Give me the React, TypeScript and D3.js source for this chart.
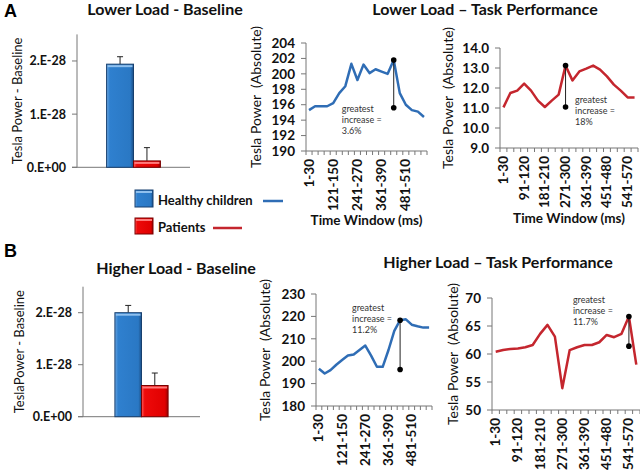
import { scaleBand, scaleLinear, line, range } from "d3"

const windows = [
  "1-30", "31-60", "61-90", "91-120", "121-150", "151-180", "181-210", "211-240",
  "241-270", "271-300", "301-330", "331-360", "361-390", "391-420", "421-450",
  "451-480", "481-510", "511-540", "541-570", "571-600",
]

// Tesla power (absolute) per 30 ms window
const lowerHealthy = [195.3, 195.8, 195.8, 195.8, 196.2, 197.5, 198.4, 201.3, 199.2, 201.2,
  200.1, 200.6, 200.3, 200.0, 201.8, 197.5, 196.0, 195.3, 195.1, 194.4]
const lowerPatients = [11.03, 11.75, 11.87, 12.22, 11.87, 11.37, 11.05, 11.37, 11.67, 13.12,
  12.38, 12.83, 12.97, 13.12, 12.92, 12.58, 12.17, 11.87, 11.53, 11.53]
const higherHealthy = [196.6, 194.5, 196.0, 198.4, 200.5, 202.5, 203.0, 205.0, 207.0, 202.5,
  197.5, 197.5, 205.0, 213.5, 218.3, 218.7, 216.3, 215.6, 215.0, 215.0]
const higherPatients = [60.4, 60.7, 60.9, 61.0, 61.2, 61.6, 63.6, 65.2, 63.1, 53.9,
  60.7, 61.2, 61.6, 61.6, 62.1, 63.4, 63.0, 63.6, 66.7, 58.1]

// greatest increase markers: [peak window index, lower value]
const lowerHealthyIncrease = [14, 195.6]
const lowerPatientsIncrease = [9, 11.05]
const higherHealthyIncrease = [14, 196.3]
const higherPatientsIncrease = [18, 61.4]

const lowerHealthyTicks = [190, 192, 194, 196, 198, 200, 202, 204]
const lowerPatientsTicks = [9, 10, 11, 12, 13, 14]
const higherHealthyTicks = [180, 190, 200, 210, 220, 230]
const higherPatientsTicks = [50, 55, 60, 65, 70]

// baseline bars, in units of 1e-28
const groups = ["Healthy children", "Patients"]
const lowerBaseline = [1.94, 0.12]
const lowerBaselineErr = [0.14, 0.25]
const higherBaseline = [2.0, 0.6]
const higherBaselineErr = [0.14, 0.24]
const barTicks = [0, 1, 2]
const barTickLabels = ["0.E+00", "1.E-28", "2.E-28"]

const BLUE = "#2f6db5"
const RED = "#c4262e"
const font = "Lato, 'Open Sans', sans-serif"

function LineChart({ values, color, left, right, top, bottom, domain, ticks, fmt, every,
  increase, note, noteDx, noteY, yLabelX, xTitle }) {
  const x = scaleBand().domain(windows).range([left, right])
  const y = scaleLinear().domain(domain).range([bottom, top])
  const cx = (i) => x(windows[i]) + x.bandwidth() / 2
  const path = line().x((d, i) => cx(i)).y(d => y(d))(values)
  const [pk, lo] = increase
  const mx = cx(pk)
  return (
    <g fontFamily={font}>
      <line x1={left} x2={left} y1={top} y2={bottom} stroke="#777" />
      <line x1={left} x2={right} y1={bottom} y2={bottom} stroke="#777" />
      {ticks.map(t => (
        <g key={t}>
          <line x1={left - 5} x2={left} y1={y(t)} y2={y(t)} stroke="#777" />
          <text x={left - 11} y={y(t)} dy="0.35em" textAnchor="end" fontSize="13.5" fontWeight="700" fill="#111">
            {fmt(t)}
          </text>
        </g>
      ))}
      {range(windows.length + 1).map(i => (
        <line key={i} x1={left + i * x.step()} x2={left + i * x.step()} y1={bottom} y2={bottom + 4} stroke="#777" />
      ))}
      {windows.map((w, i) => i % every === 0 ? (
        <text key={w} transform={`translate(${cx(i) + 4.5},${bottom + 8}) rotate(-90)`}
          textAnchor="end" fontSize="13.5" fontWeight="700" fill="#111">{w}</text>
      ) : null)}
      <path d={path} fill="none" stroke={color} strokeWidth="2.5" strokeLinejoin="round" />
      <line x1={mx} x2={mx} y1={y(values[pk])} y2={y(lo)} stroke="#222" strokeWidth="1" />
      <circle cx={mx} cy={y(values[pk])} r="2.8" fill="#000" />
      <circle cx={mx} cy={y(lo)} r="2.8" fill="#000" />
      <text x={mx + noteDx} y={y(noteY)} fontSize="9" fill="#333">
        <tspan>greatest</tspan>
        <tspan x={mx + noteDx} dy="11">increase =</tspan>
        <tspan x={mx + noteDx} dy="11">{note}</tspan>
      </text>
      <text transform={`translate(${yLabelX},${(top + bottom) / 2}) rotate(-90)`} textAnchor="middle"
        fontSize="14" fill="#111" style={{ whiteSpace: "pre" }}>{"Tesla Power  (Absolute)"}</text>
      {xTitle ? (
        <text x={(left + right) / 2} y={xTitle} textAnchor="middle" fontSize="13.5" fontWeight="700" fill="#111">
          Time Window (ms)
        </text>
      ) : null}
    </g>
  )
}

function Bar({ x, y, w, h, fill }) {
  return (
    <g>
      <rect x={x} y={y} width={w} height={h} fill={`url(#grad-${fill})`} stroke={fill === "blue" ? "#173f6e" : "#7a0000"} />
      <rect x={x + 1} y={y + 1} width={w - 2} height={Math.min(2, h - 1)} fill={fill === "blue" ? "#8fc0ee" : "#ff7a7a"} />
    </g>
  )
}

function BarChart({ values, errors, axisX, axisEnd, base, top, pad, yLabelX, yLabel }) {
  const x = scaleBand().domain(groups).range([axisX, axisEnd]).paddingInner(0).paddingOuter(pad)
  const y = scaleLinear().domain([0, 2.5]).range([base, top])
  return (
    <g fontFamily={font}>
      <line x1={axisX} x2={axisX} y1={top} y2={base} stroke="#777" />
      <line x1={axisX - 5} x2={axisEnd} y1={base} y2={base} stroke="#777" />
      {barTicks.map((t, i) => (
        <g key={t}>
          <line x1={axisX - 5} x2={axisX} y1={y(t)} y2={y(t)} stroke="#777" />
          <text x={axisX - 11} y={y(t)} dy="0.35em" textAnchor="end" fontSize="12.5" fontWeight="700" fill="#111">
            {barTickLabels[i]}
          </text>
        </g>
      ))}
      {groups.map((g, i) => {
        const bx = x(g)
        const c = bx + x.bandwidth() / 2
        const ty = y(values[i] + errors[i])
        return (
          <g key={g}>
            <line x1={c} x2={c} y1={y(values[i])} y2={ty} stroke="#222" />
            <line x1={c - 3} x2={c + 3} y1={ty} y2={ty} stroke="#222" />
            <Bar x={bx} y={y(values[i])} w={x.bandwidth()} h={base - y(values[i])} fill={i === 0 ? "blue" : "red"} />
          </g>
        )
      })}
      <text transform={`translate(${yLabelX},${(top + base) / 2}) rotate(-90)`} textAnchor="middle"
        fontSize="13" fill="#111">{yLabel}</text>
    </g>
  )
}

export default function App() {
  const t1 = (v) => v.toFixed(1)
  const t0 = (v) => String(v)
  return (
    <svg width={640} height={472} style={{ position: "absolute", left: 0, top: 0, background: "#fff" }}>
      <defs>
        <linearGradient id="grad-blue" x1="0" x2="1" y1="0" y2="0">
          <stop offset="0" stopColor="#6aa6e0" />
          <stop offset="0.12" stopColor="#2f80cf" />
          <stop offset="0.88" stopColor="#2a78c4" />
          <stop offset="1" stopColor="#1c4f86" />
        </linearGradient>
        <linearGradient id="grad-red" x1="0" x2="1" y1="0" y2="0">
          <stop offset="0" stopColor="#ff5a5a" />
          <stop offset="0.12" stopColor="#ee0a0a" />
          <stop offset="0.88" stopColor="#e00000" />
          <stop offset="1" stopColor="#9a0000" />
        </linearGradient>
      </defs>

      <text x={4} y={17} fontFamily="'Liberation Sans', Arial, sans-serif" fontSize="18" fontWeight="700">A</text>
      <text x={4} y={257} fontFamily="'Liberation Sans', Arial, sans-serif" fontSize="18" fontWeight="700">B</text>

      <g fontFamily={font} fontSize="16" fontWeight="700" fill="#111">
        <text x={165} y={15} textAnchor="middle">Lower Load - Baseline</text>
        <text x={485} y={15} textAnchor="middle">Lower Load – Task Performance</text>
        <text x={176} y={274} textAnchor="middle">Higher Load - Baseline</text>
        <text x={498} y={268} textAnchor="middle">Higher Load – Task Performance</text>
      </g>

      <BarChart values={lowerBaseline} errors={lowerBaselineErr} axisX={77} axisEnd={190} base={167.3}
        top={34.4} pad={1.1} yLabelX={22} yLabel="Tesla Power - Baseline" />
      <BarChart values={higherBaseline} errors={higherBaselineErr} axisX={83} axisEnd={200} base={416.7}
        top={286.7} pad={1.2} yLabelX={24} yLabel="TeslaPower - Baseline" />

      {/* legend */}
      <g fontFamily={font} fontSize="13" fontWeight="700" fill="#111">
        <Bar x={135} y={190} w={18} h={17} fill="blue" />
        <text x={158} y={205}>{groups[0]}</text>
        <line x1={263} x2={283} y1={201} y2={201} stroke={BLUE} strokeWidth="2.5" />
        <Bar x={135} y={218} w={18} h={16} fill="red" />
        <text x={158} y={232}>{groups[1]}</text>
        <line x1={213} x2={242} y1={228} y2={228} stroke={RED} strokeWidth="2.5" />
      </g>

      <LineChart values={lowerHealthy} color={BLUE} left={306} right={427} top={43} bottom={151}
        domain={[190, 204]} ticks={lowerHealthyTicks} fmt={t0} every={4} increase={lowerHealthyIncrease}
        note="3.6%" noteDx={-52} noteY={195.05} yLabelX={261} xTitle={225} />
      <LineChart values={lowerPatients} color={RED} left={500} right={638} top={48} bottom={148}
        domain={[9, 14]} ticks={lowerPatientsTicks} fmt={t1} every={3} increase={lowerPatientsIncrease}
        note="18%" noteDx={9.5} noteY={11.24} yLabelX={452.5} xTitle={223} />
      <LineChart values={higherHealthy} color={BLUE} left={316} right={432} top={294} bottom={406}
        domain={[180, 230]} ticks={higherHealthyTicks} fmt={t0} every={4} increase={higherHealthyIncrease}
        note="11.2%" noteDx={-48} noteY={222.4} yLabelX={269.5} xTitle={null} />
      <LineChart values={higherPatients} color={RED} left={492} right={640} top={298} bottom={410}
        domain={[50, 70]} ticks={higherPatientsTicks} fmt={t0} every={3} increase={higherPatientsIncrease}
        note="11.7%" noteDx={-56} noteY={69.05} yLabelX={457.5} xTitle={null} />
    </svg>
  )
}
